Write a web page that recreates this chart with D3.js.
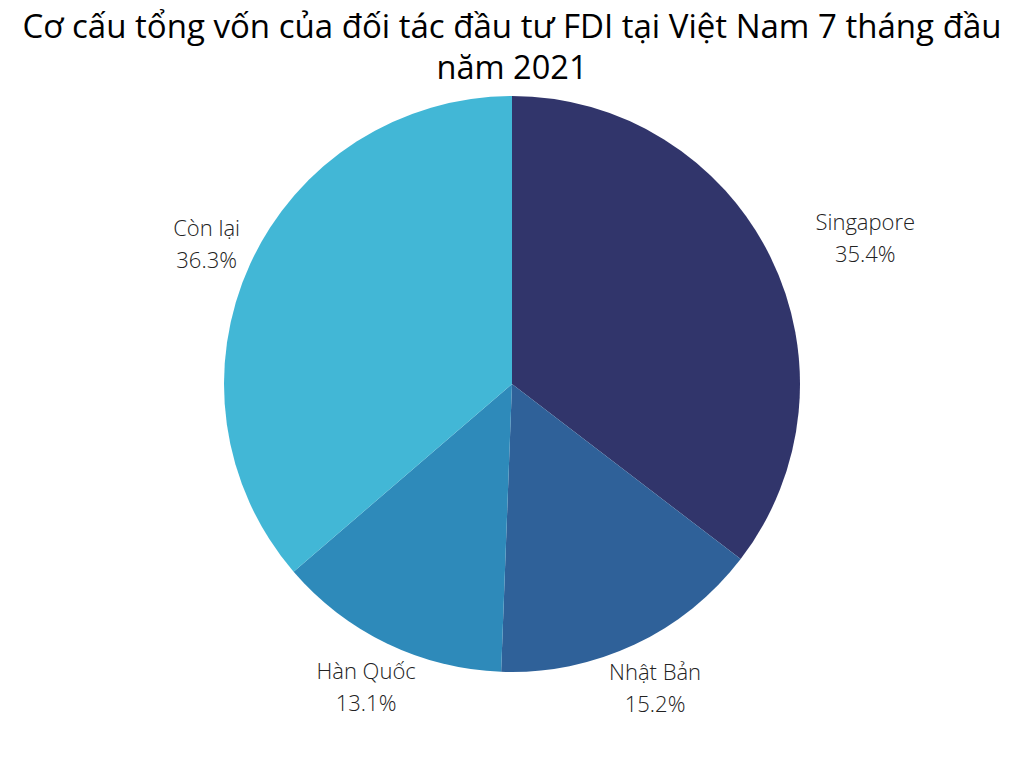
<!DOCTYPE html>
<html><head><meta charset="utf-8">
<script src="https://cdn.jsdelivr.net/npm/d3@7"></script>
<style>html,body{margin:0;padding:0;background:#fff;}svg{display:block;}</style>
</head><body>
<script>
const titleLines = ["Cơ cấu tổng vốn của đối tác đầu tư FDI tại Việt Nam 7 tháng đầu", "năm 2021"];
const categories = ["Singapore", "Nhật Bản", "Hàn Quốc", "Còn lại"];
const values = [35.4, 15.2, 13.1, 36.3];
const colors = ["#31356b", "#2f6199", "#2e8aba", "#42b7d6"];

const W = 1024, H = 768, cx = 512, cy = 384, R = 288;
const svg = d3.select("body").append("svg").attr("width", W).attr("height", H);

const data = categories.map((c, i) => ({name: c, value: values[i], color: colors[i]}));
const pie = d3.pie().value(d => d.value).sort(null);
const arc = d3.arc().innerRadius(0).outerRadius(R);
const arcs = pie(data);

const g = svg.append("g").attr("transform", `translate(${cx},${cy})`);
g.selectAll("path").data(arcs).join("path")
  .attr("d", arc).attr("fill", d => d.data.color);

const labelR = 336;
const labelDx = {"Singapore": 52};
const labelDy = {"Singapore": 3};
const lab = g.selectAll("g.lab").data(arcs).join("g").attr("class", "lab")
  .attr("transform", d => {
    const a = (d.startAngle + d.endAngle) / 2;
    const x = labelR * Math.sin(a) + (labelDx[d.data.name] || 0);
    const y = -labelR * Math.cos(a) + (labelDy[d.data.name] || 0);
    return `translate(${x},${y})`;
  });
const lblStyle = sel => sel.attr("text-anchor", "middle")
  .style("font-family", "'Open Sans'").style("font-weight", 300).style("font-size", "22px").attr("fill", "#222");
lab.append("text").call(lblStyle).attr("y", -8).text(d => d.data.name);
lab.append("text").call(lblStyle).attr("y", 24).text(d => d3.format(".1f")(d.data.value) + "%");

const tl = [{t: titleLines[0], y: 38, len: 979}, {t: titleLines[1], y: 79, len: 151}];
svg.selectAll("text.title").data(tl).join("text").attr("class", "title")
  .attr("x", W / 2).attr("y", d => d.y).attr("text-anchor", "middle")
  .attr("textLength", d => d.len).attr("lengthAdjust", "spacingAndGlyphs")
  .style("font-family", "'Open Sans'").style("font-size", "33px").attr("fill", "#000")
  .text(d => d.t);
</script>
</body></html>
